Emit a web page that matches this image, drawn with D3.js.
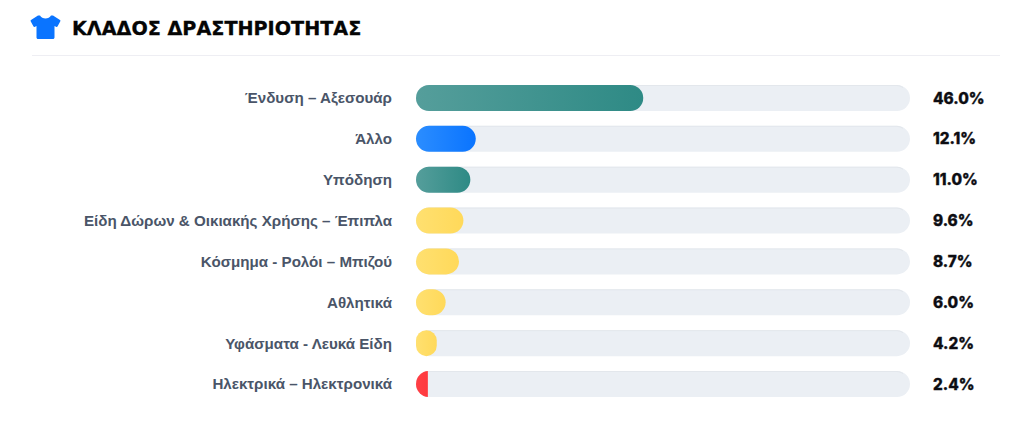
<!DOCTYPE html>
<html>
<head>
<meta charset="utf-8">
<script src="https://cdn.jsdelivr.net/npm/d3@7"></script>
<style>
  html, body { margin: 0; padding: 0; background: #fff; overflow: hidden; }
  svg { display: block; }
  .label text { font-family: "Liberation Sans", Arial, sans-serif; font-weight: 700; font-size: 15.15px; fill: #4a5568; }
  .value { font-family: Inter, sans-serif; font-weight: 800; font-size: 15.3px; fill: #0d0d12; stroke: #0d0d12; stroke-width: 0.35px; }
  .title { font-family: "DejaVu Sans", sans-serif; font-weight: 700; font-size: 19.2px; fill: #050505; stroke: #050505; stroke-width: 0.3px; }
</style>
</head>
<body>
<div id="chart"></div>
<script>
var categories = [
  'Ένδυση – Αξεσουάρ',
  'Άλλο',
  'Υπόδηση',
  'Είδη Δώρων & Οικιακής Χρήσης – Έπιπλα',
  'Κόσμημα - Ρολόι – Μπιζού',
  'Αθλητικά',
  'Υφάσματα - Λευκά Είδη',
  'Ηλεκτρικά – Ηλεκτρονικά'
];
var values = [46.0, 12.1, 11.0, 9.6, 8.7, 6.0, 4.2, 2.4];
var barColors = ['teal', 'blue', 'teal', 'yellow', 'yellow', 'yellow', 'yellow', 'red'];

var gradients = {
  teal: ['#559e9b', '#2e8a85'],
  blue: ['#2b8dff', '#0a74ff'],
  yellow: ['#ffe070', '#ffd95a'],
  red: ['#ff4045', '#ff2f36']
};

var width = 1024, height = 425, barHeight = 26, radius = 13;

var svg = d3.select('#chart').append('svg')
  .attr('width', width)
  .attr('height', height);

var defs = svg.append('defs');

Object.keys(gradients).forEach(function (key) {
  var grad = defs.append('linearGradient').attr('id', 'grad-' + key);
  grad.append('stop').attr('offset', '0%').attr('stop-color', gradients[key][0]);
  grad.append('stop').attr('offset', '100%').attr('stop-color', gradients[key][1]);
});

var x = d3.scaleLinear().domain([0, 100]).range([416, 910]);
var y = d3.scalePoint().domain(categories).range([98, 384]);

// header
var icon = svg.append('g').attr('transform', 'translate(31,15)');
icon.append('path')
  .attr('d', 'M9 0.5 C11 4.5 18 4.5 20 0.5 L22 0.5 L29 5 C29.5 5.3 29.5 6 29.2 6.5 L26.5 11.5 C26.2 12 25.5 12.2 25 11.8 L23.5 11 L23.5 22.5 C23.5 23.3 22.8 24 22 24 L7 24 C6.2 24 5.5 23.3 5.5 22.5 L5.5 11 L4 11.8 C3.5 12.2 2.8 12 2.5 11.5 L-0.2 6.5 C-0.5 6 -0.5 5.3 0 5 L7 0.5 Z')
  .attr('fill', '#0a74ff');

svg.append('text')
  .attr('class', 'title')
  .attr('x', 72)
  .attr('y', 34.5)
  .text('ΚΛΑΔΟΣ ΔΡΑΣΤΗΡΙΟΤΗΤΑΣ');

svg.append('line')
  .attr('x1', 32).attr('x2', 1000)
  .attr('y1', 55.5).attr('y2', 55.5)
  .attr('stroke', '#eeeef3');

// category labels
var axis = svg.append('g')
  .attr('class', 'label')
  .attr('transform', 'translate(392,0)')
  .call(d3.axisLeft(y).tickSize(0).tickPadding(0));
axis.select('.domain').remove();

// tracks
svg.selectAll('.track')
  .data(categories)
  .enter()
  .append('rect')
  .attr('class', 'track')
  .attr('x', x(0))
  .attr('y', function (d) { return y(d) - barHeight / 2; })
  .attr('width', x(100) - x(0))
  .attr('height', barHeight)
  .attr('rx', radius)
  .attr('fill', '#ebeff4');

// thin darker shade along the top of each track
svg.selectAll('.shade')
  .data(categories)
  .enter()
  .append('path')
  .attr('class', 'shade')
  .attr('d', function (d) {
    var top = y(d) - barHeight / 2 + 0.5;
    return 'M' + (x(0) + radius - 6) + ' ' + (top + 2) + ' Q' + (x(0) + radius - 3) + ' ' + top + ' ' + (x(0) + radius) + ' ' + top +
      ' L' + (x(100) - radius) + ' ' + top + ' Q' + (x(100) - radius + 3) + ' ' + top + ' ' + (x(100) - radius + 6) + ' ' + (top + 2);
  })
  .attr('fill', 'none')
  .attr('stroke', '#e3e7ec');

// bars: a bar too short for its rounded end is cut off flat
var barWidth = function (i) { return x(values[i]) - x(0); };

values.forEach(function (v, i) {
  var w = barWidth(i);
  var top = y(categories[i]) - barHeight / 2;
  if (w < radius) {
    defs.append('clipPath').attr('id', 'cut-' + i)
      .append('rect')
      .attr('x', x(0)).attr('y', top)
      .attr('width', w).attr('height', barHeight);
  }
});

svg.selectAll('.bar')
  .data(values)
  .enter()
  .append('rect')
  .attr('class', 'bar')
  .attr('x', x(0))
  .attr('y', function (d, i) { return y(categories[i]) - barHeight / 2; })
  .attr('width', function (d, i) {
    var w = barWidth(i);
    return w < radius ? barHeight : w;
  })
  .attr('height', barHeight)
  .attr('rx', function (d, i) { return barWidth(i) < radius ? radius : Math.min(radius, barWidth(i) / 2); })
  .attr('clip-path', function (d, i) { return barWidth(i) < radius ? 'url(#cut-' + i + ')' : null; })
  .attr('fill', function (d, i) { return 'url(#grad-' + barColors[i] + ')'; });

// values
svg.selectAll('.value')
  .data(values)
  .enter()
  .append('text')
  .attr('class', 'value')
  .attr('x', 933)
  .attr('y', function (d, i) { return y(categories[i]); })
  .attr('dy', '0.36em')
  .text(function (d) { return d3.format('.1f')(d) + '%'; });
</script>
</body>
</html>
